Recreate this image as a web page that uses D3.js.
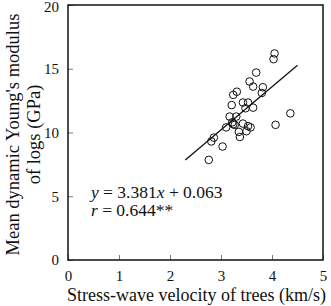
<!DOCTYPE html>
<html>
<head>
<meta charset="utf-8">
<script src="https://cdn.jsdelivr.net/npm/d3@7"></script>
<style>
  body { margin: 0; background: #fff; }
  svg text { font-family: "Liberation Serif", "Times New Roman", serif !important; fill: #111; }
</style>
</head>
<body>
<svg></svg>
<script>
// Data
const velocity = [4.05, 4.03, 3.69, 3.56, 3.63, 3.31, 3.24, 3.82, 3.80, 3.21, 3.43, 3.53, 3.48,
  3.63, 3.17, 3.30, 3.22, 3.27, 3.10, 3.43, 3.53, 3.58, 3.50, 3.37, 3.35, 4.36, 4.07, 2.86,
  2.81, 3.03, 2.76, 3.24];
const modulus = [16.2, 15.75, 14.7, 14.0, 13.6, 13.2, 12.95, 13.55, 13.1, 12.15, 12.35, 12.35, 11.9,
  11.95, 11.25, 11.25, 10.8, 10.6, 10.4, 10.7, 10.5, 10.4, 10.1, 9.65, 10.05, 11.5, 10.6, 9.6,
  9.3, 8.9, 7.85, 10.65];
const xTicks = [0, 1, 2, 3, 4, 5];
const yTicks = [0, 5, 10, 15, 20];
const fitRange = [2.3, 4.5];
const slope = 3.381, intercept = 0.063;

// Sizes
const W = 331, H = 306;
const margin = { t: 5, b: 46, l: 68, r: 8 };
const width = W - margin.l - margin.r;
const height = H - margin.t - margin.b;

const svg = d3.select("svg")
  .attr("width", W)
  .attr("height", H)
  .append("g")
    .attr("transform", `translate(${margin.l}, ${margin.t})`);

// Scales
const xScale = d3.scaleLinear().domain([0, 5]).range([0, width]);
const yScale = d3.scaleLinear().domain([0, 20]).range([height, 0]);

// x axis (inward ticks)
const xAxis = svg.append("g")
  .attr("transform", `translate(0, ${height})`)
  .call(d3.axisBottom(xScale).tickValues(xTicks).tickFormat(d3.format("d"))
    .tickSizeInner(-5).tickSizeOuter(0).tickPadding(10));
xAxis.select(".domain").remove();
xAxis.selectAll("line").attr("stroke", "#777");
xAxis.selectAll("text").attr("font-size", 15);

// y axis (inward ticks)
const yAxis = svg.append("g")
  .call(d3.axisLeft(yScale).tickValues(yTicks).tickFormat(d3.format("d"))
    .tickSizeInner(-5).tickSizeOuter(0).tickPadding(9));
yAxis.select(".domain").remove();
yAxis.selectAll("line").attr("stroke", "#777");
yAxis.selectAll("text").attr("font-size", 15);
yAxis.selectAll(".tick").filter(d => d === 20).select("text").attr("dy", "0.45em");

// frame
svg.append("rect")
  .attr("width", width)
  .attr("height", height)
  .attr("fill", "none")
  .attr("stroke", "#111")
  .attr("stroke-width", 1.5);

// fit line
svg.append("line")
  .attr("x1", xScale(fitRange[0]))
  .attr("y1", yScale(slope * fitRange[0] + intercept))
  .attr("x2", xScale(fitRange[1]))
  .attr("y2", yScale(slope * fitRange[1] + intercept))
  .attr("stroke", "#111")
  .attr("stroke-width", 1.3);

// points
svg.selectAll("circle")
  .data(velocity.map((v, i) => [v, modulus[i]]))
  .join("circle")
    .attr("cx", d => xScale(d[0]))
    .attr("cy", d => yScale(d[1]))
    .attr("r", 3.8)
    .attr("fill", "none")
    .attr("stroke", "#111")
    .attr("stroke-width", 1);

// equation
const eq = svg.append("text")
  .attr("x", xScale(0.45))
  .attr("y", yScale(4.9))
  .attr("font-size", 17.5);
eq.append("tspan").attr("font-style", "italic").text("y");
eq.append("tspan").text(" = 3.381");
eq.append("tspan").attr("font-style", "italic").text("x");
eq.append("tspan").text(" + 0.063");

const rr = svg.append("text")
  .attr("x", xScale(0.45))
  .attr("y", yScale(3.45))
  .attr("font-size", 17.5);
rr.append("tspan").attr("font-style", "italic").text("r");
rr.append("tspan").text(" = 0.644**");

// axis labels
svg.append("text")
  .attr("x", width / 2 + 1)
  .attr("y", height + 41)
  .attr("text-anchor", "middle")
  .attr("font-size", 18)
  .text("Stress-wave velocity of trees (km/s)");

const yl = svg.append("text")
  .attr("transform", `translate(${-margin.l + 19}, ${height / 2 + 2}) rotate(-90)`)
  .attr("text-anchor", "middle")
  .attr("font-size", 18.5);
yl.append("tspan").attr("x", 0).attr("dy", 0).text("Mean dynamic Young's modulus");
yl.append("tspan").attr("x", 0).attr("dy", 21).text("of logs (GPa)");
</script>
</body>
</html>
